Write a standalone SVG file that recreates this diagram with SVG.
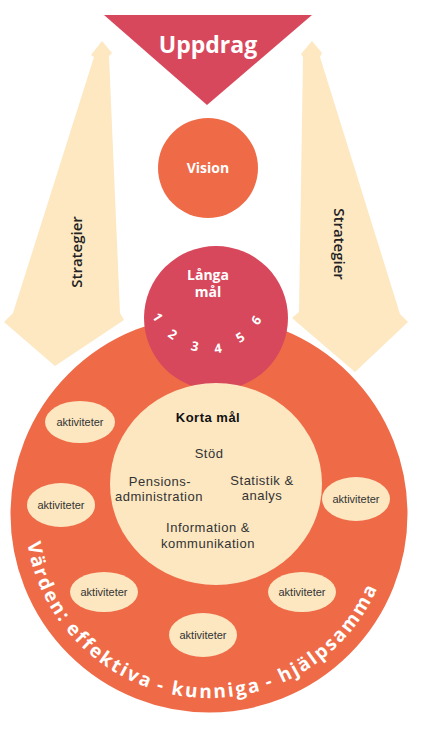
<svg xmlns="http://www.w3.org/2000/svg" width="437" height="732" viewBox="0 0 437 732">
<defs>
<style>
.arrow{fill:#fde8c2}
.red{fill:#d8485c}
.orange{fill:#ef6b48;stroke:#ffffff;stroke-width:3}
.cream{fill:#fce7c1}
.wt{fill:#ffffff;font-family:"Open Sans","Noto Sans",sans-serif;font-weight:700;text-anchor:middle}
.arc{fill:#ffffff;font-family:"Open Sans","Noto Sans",sans-serif;font-weight:700;font-size:19px;letter-spacing:2.2px}
.dk{fill:#333333;font-family:"Liberation Sans",Arial,sans-serif;text-anchor:middle;font-size:13px;letter-spacing:0.5px}
.act{fill:#333333;font-family:"Liberation Sans",Arial,sans-serif;text-anchor:middle;font-size:11px}
.strat{fill:#222222;font-family:"Open Sans","Noto Sans",sans-serif;font-weight:600;font-size:15px;text-anchor:middle}
.num{fill:#ffffff;font-family:"Open Sans","Noto Sans",sans-serif;font-weight:700;font-size:13px;text-anchor:middle;dominant-baseline:central}
</style>
<path id="valuesArc" d="M 25.7 498 A 184 184 0 1 0 392.3 498"/>
</defs>
<rect width="437" height="732" fill="#ffffff"/>
<g id="strategier-left">
<polygon class="arrow" points="102,41 112,53 109,56 120,313 124,320 55,366 4,322 13,313 94,57 91,55"/>
<text class="strat" transform="translate(82,252) rotate(-90)">Strategier</text>
</g>
<g id="strategier-right">
<polygon class="arrow" points="312,41 322,53 320,57 400,314 408,322 355,372 292,318 299,312 303,57 301,54"/>
<text class="strat" transform="translate(334,244) rotate(90)">Strategier</text>
</g>
<g id="uppdrag">
<polygon class="red" points="104,15 312,15 207,105"/>
<text class="wt" x="208" y="53" font-size="23" font-weight="600">Uppdrag</text>
</g>
<g id="vision">
<circle cx="208" cy="168" r="50" fill="#ef6b48"/>
<text class="wt" x="208" y="173" font-size="14">Vision</text>
</g>
<g id="varden">
<circle class="orange" cx="209" cy="514" r="200"/>
<text class="arc"><textPath href="#valuesArc" startOffset="45">Värden:</textPath></text>
<text class="arc"><textPath href="#valuesArc" startOffset="140">effektiva</textPath></text>
<text class="arc"><textPath href="#valuesArc" startOffset="251">-</textPath></text>
<text class="arc"><textPath href="#valuesArc" startOffset="266.5">kunniga</textPath></text>
<text class="arc"><textPath href="#valuesArc" startOffset="364.5">-</textPath></text>
<text class="arc"><textPath href="#valuesArc" startOffset="380">hjälp</textPath></text>
<text class="arc"><textPath href="#valuesArc" startOffset="438.5">samma</textPath></text>
</g>
<g id="langa-mal">
<circle class="red" cx="216" cy="318" r="72"/>
<text class="wt" x="208" y="280" font-size="14">Långa</text>
<text class="wt" x="208" y="297" font-size="14">mål</text>
<text class="num" transform="translate(158,317) rotate(57)">1</text>
<text class="num" transform="translate(173,334) rotate(35)">2</text>
<text class="num" transform="translate(195,346) rotate(12)">3</text>
<text class="num" transform="translate(218,348) rotate(-9)">4</text>
<text class="num" transform="translate(240,337) rotate(-32)">5</text>
<text class="num" transform="translate(256,320) rotate(-54)">6</text>
</g>
<g id="korta-mal">
<ellipse class="cream" cx="216" cy="484" rx="106" ry="101"/>
<text class="dk" x="208" y="422" font-weight="700" style="fill:#111">Korta mål</text>
<text class="dk" x="209" y="458">Stöd</text>
<text class="dk" x="160" y="486">Pensions-</text>
<text class="dk" x="159" y="501">administration</text>
<text class="dk" x="262" y="485">Statistik &amp;</text>
<text class="dk" x="262" y="500">analys</text>
<text class="dk" x="208" y="532">Information &amp;</text>
<text class="dk" x="208" y="548">kommunikation</text>
</g>
<g id="aktiviteter-1"><ellipse class="cream" cx="80" cy="422" rx="35" ry="21"/><text class="act" x="80" y="426">aktiviteter</text></g>
<g id="aktiviteter-2"><ellipse class="cream" cx="61" cy="505" rx="34" ry="22"/><text class="act" x="61" y="509">aktiviteter</text></g>
<g id="aktiviteter-3"><ellipse class="cream" cx="104" cy="592" rx="34" ry="20"/><text class="act" x="104" y="596">aktiviteter</text></g>
<g id="aktiviteter-4"><ellipse class="cream" cx="203" cy="635" rx="34" ry="22"/><text class="act" x="203" y="639">aktiviteter</text></g>
<g id="aktiviteter-5"><ellipse class="cream" cx="302" cy="592" rx="34" ry="20"/><text class="act" x="302" y="596">aktiviteter</text></g>
<g id="aktiviteter-6"><ellipse class="cream" cx="356" cy="499" rx="34" ry="22"/><text class="act" x="356" y="503">aktiviteter</text></g>
<g id="connectors"></g>
</svg>
